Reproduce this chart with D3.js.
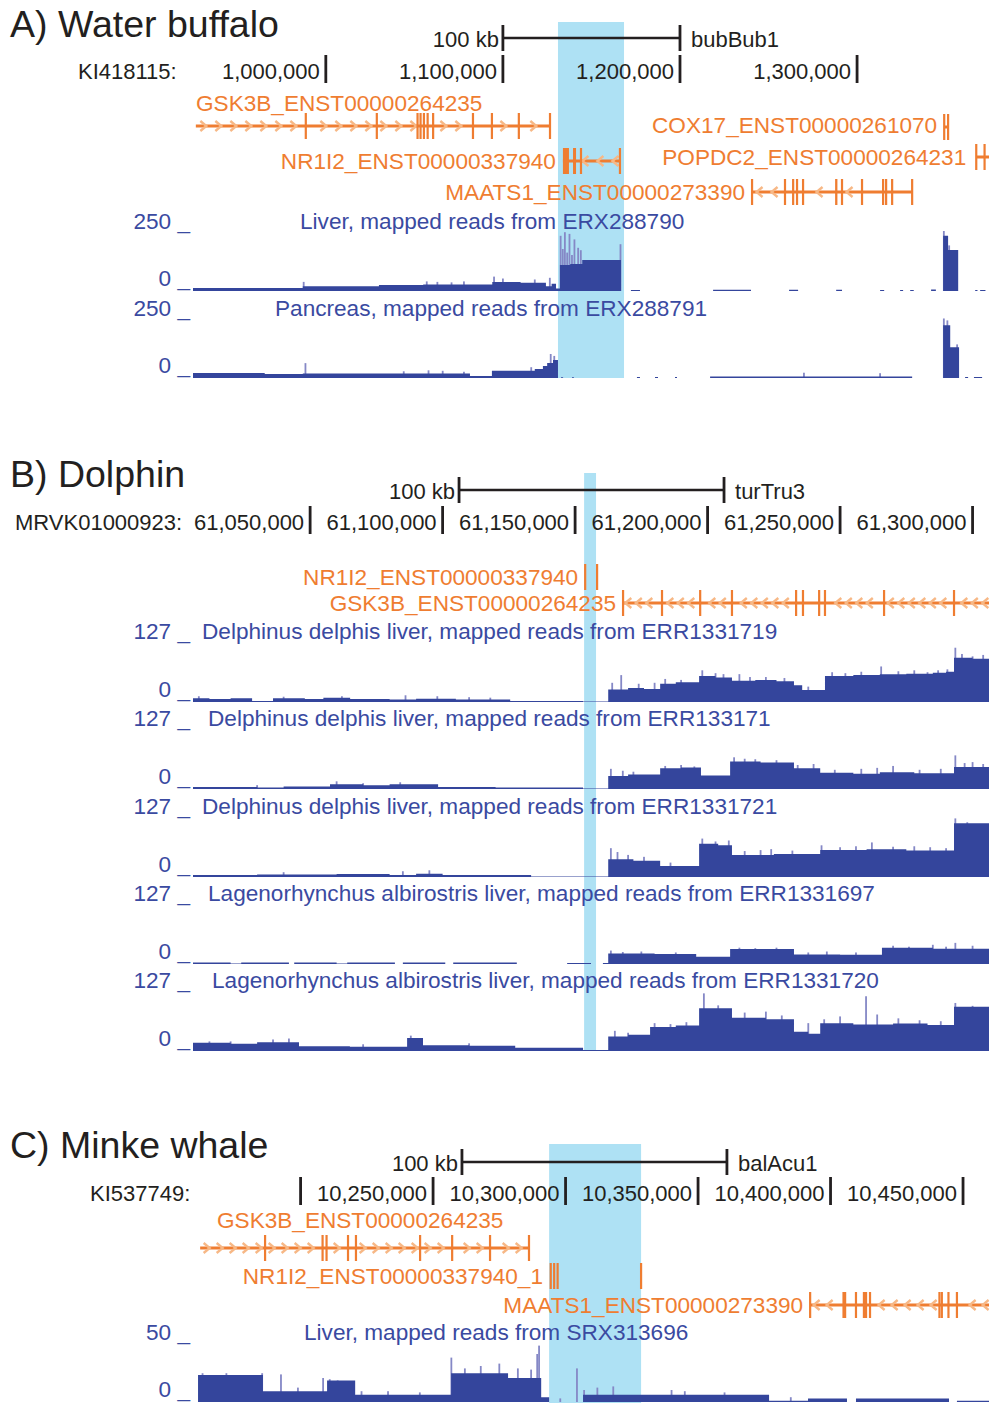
<!DOCTYPE html>
<html>
<head>
<meta charset="utf-8">
<script src="https://cdn.jsdelivr.net/npm/d3@7/dist/d3.min.js"></script>
<style>
  body { margin: 0; background: #fff; }
  svg { display: block; font-family: "Liberation Sans", Arial, Helvetica, sans-serif; }
</style>
</head>
<body>
<div id="chart"></div>
<script>
// all genomic positions are in kb

// ---- A) water buffalo, KI418115 (bubBub1) ----
const bufView = [925.0, 1374.5];
const bufTicks = [1000, 1100, 1200, 1300];
const bufTickLabels = ['1,000,000', '1,100,000', '1,200,000', '1,300,000'];
const bufHighlight = [1131.1, 1168.4];
const bufScaleBar = [1100, 1200];
const bufGenes = [
  { name: 'GSK3B_ENST00000264235', strand: '+', start: 926.6, end: 1126.6,
    exons: [988.7, 1028.8, 1051.8, 1053.5, 1055.4, 1057.5, 1060.6, 1083.1, 1093.8, 1109.0, 1126.6] },
  { name: 'COX17_ENST00000261070', strand: '-', start: 1349.2, end: 1351.4, exons: [1349.2, 1351.4] },
  { name: 'NR1I2_ENST00000337940', strand: '-', start: 1133.9, end: 1166.1,
    exons: [[1133.9, 1137.3], [1139.6, 1141.3], 1144.1, 1166.1] },
  { name: 'POPDC2_ENST00000264231', strand: '-', start: 1367.3, end: 1376.0, exons: [1367.3, 1372.0] },
  { name: 'MAATS1_ENST00000273390', strand: '-', start: 1240.7, end: 1331.1,
    exons: [1240.7, 1259.3, 1263.9, 1266.1, 1269.5, [1287.6, 1288.9], 1291.5, 1302.8, 1314.7, 1316.4, [1319.8, 1320.6], 1331.1] }
];
const bufLiver = [[925.0, 12], [987.0, 20], [1030.0, 25], [1055.0, 27], [1094.0, 37], [1110.0, 34], [1124.3, 20],
  [1127.5, 30], [1130.0, 10], [1132.2, 108], [1138.0, 112], [1144.8, 129], [1166.7, 0], [1172.3, 4], [1177.4, 0],
  [1218.7, 5], [1240.1, 0], [1261.6, 5], [1266.7, 0], [1288.2, 5], [1291.5, 0], [1313.0, 4], [1315.3, 0],
  [1324.3, 4], [1326.0, 0], [1330.0, 4], [1332.0, 0], [1341.8, 6], [1344.5, 0], [1348.6, 230], [1351.4, 171],
  [1357.1, 0], [1366.7, 4], [1368.0, 0], [1369.5, 4], [1372.5, 0]];
const bufLiverPeaks = [[987.5, 38], [1057, 40], [1063, 38], [1071, 36], [1078, 40], [1095, 60], [1100, 52],
  [1118, 48], [1126.5, 55], [1132.6, 230], [1133.8, 175], [1135.0, 245], [1136.3, 160], [1137.6, 238],
  [1139.0, 150], [1140.4, 215], [1142.5, 180], [1144.0, 170], [1166.4, 195], [1349.0, 250], [1352.0, 190]];
const bufPancreas = [[925.0, 21], [965.5, 17], [987.0, 19], [1081.4, 8], [1093.8, 30], [1118.0, 38], [1122.6, 50],
  [1125.0, 62], [1128.3, 75], [1131.1, 0], [1132.8, 3], [1134.0, 0], [1139.0, 3], [1140.1, 0], [1175.7, 4],
  [1177.4, 0], [1185.9, 4], [1187.6, 0], [1197.2, 4], [1198.3, 0], [1217.0, 6], [1331.1, 0], [1348.6, 220],
  [1352.6, 128], [1357.6, 0], [1361.0, 4], [1362.7, 0], [1366.0, 4], [1370.6, 0]];
const bufPancreasPeaks = [[988.5, 62], [1044, 28], [1058, 32], [1066, 30], [1078, 26], [1116, 45], [1127.0, 100],
  [1129.0, 92], [1270, 22], [1313, 20], [1349.0, 248], [1351.0, 240], [1356.5, 140]];

// ---- B) dolphin, MRVK01000923 (turTru3) ----
const dolView = [61005.8, 61306.2];
const dolTicks = [61050, 61100, 61150, 61200, 61250, 61300];
const dolTickLabels = ['61,050,000', '61,100,000', '61,150,000', '61,200,000', '61,250,000', '61,300,000'];
const dolHighlight = [61153.4, 61157.9];
const dolScaleBar = [61106.2, 61206.2];
const dolGenes = [
  { name: 'NR1I2_ENST00000337940', strand: '-', start: 61153.8, end: 61158.3, exons: [61153.8, 61158.3] },
  { name: 'GSK3B_ENST00000264235', strand: '-', start: 61168.1, end: 61320.0,
    exons: [61168.1, 61182.8, 61197.2, 61209.2, 61233.4, 61236.0, 61242.1, 61244.3, 61266.6, 61293.0] }
];
const dolCov1 = [[61005.8, 8], [61012, 6], [61020, 8], [61028.1, 2], [61036.0, 8], [61048, 6], [61055, 9],
  [61065.1, 6], [61080, 5], [61090, 7], [61105, 5], [61125.5, 2], [61153.0, 1], [61162.5, 26], [61170, 29],
  [61176, 27], [61182.1, 38], [61188, 41], [61196.8, 54], [61203, 51], [61209.2, 44], [61218, 46], [61226, 43],
  [61232.6, 35], [61235.7, 25], [61244.3, 54], [61255, 56], [61265, 58], [61275, 59], [61285, 61], [61290.0, 63],
  [61293.0, 92], [61300, 90]];
const dolCov1Peaks = [[61008, 12], [61040, 11], [61062, 12], [61086, 14], [61098, 12], [61110, 10], [61118, 9],
  [61164, 40], [61167.4, 56], [61174, 38], [61180, 40], [61184, 48], [61190, 46], [61198, 66], [61203, 60],
  [61206, 58], [61212, 58], [61216, 52], [61222, 52], [61229, 50], [61238, 32], [61247, 62], [61252, 60],
  [61258, 63], [61265.5, 74], [61272, 64], [61278, 66], [61283, 62], [61287, 66], [61290.5, 68], [61293.5, 113],
  [61296, 100], [61300, 95], [61304, 98]];
const dolCov2 = [[61005.8, 4], [61030, 3], [61040, 5], [61057.5, 10], [61070, 8], [61080, 10], [61098.3, 4],
  [61120, 3], [61153.0, 1], [61162.5, 27], [61170, 30], [61182.1, 43], [61190, 45], [61197.5, 28], [61208.5, 57],
  [61220, 55], [61232.6, 43], [61242.5, 34], [61255, 32], [61265, 35], [61278, 33], [61293.0, 46]];
const dolCov2Peaks = [[61030, 8], [61060, 16], [61070, 12], [61084, 14], [61163.5, 42], [61168, 38], [61172, 36],
  [61184, 48], [61190, 50], [61195, 47], [61210, 66], [61214, 63], [61218, 62], [61226, 60], [61234, 50],
  [61240, 52], [61248, 40], [61258, 42], [61264, 44], [61270, 48], [61280, 40], [61288, 42], [61293.5, 70],
  [61297, 54], [61300, 56], [61304, 52]];
const dolCov3 = [[61005.8, 4], [61030, 5], [61060.0, 6], [61080, 4], [61090, 7], [61100.0, 4], [61133.4, 1],
  [61162.5, 37], [61172, 34], [61182.1, 23], [61196.8, 69], [61204, 66], [61209.2, 46], [61225, 48],
  [61242.5, 56], [61260, 58], [61275, 55], [61293.0, 112]];
const dolCov3Peaks = [[61040, 10], [61085, 12], [61095, 14], [61163.5, 60], [61166, 52], [61170, 46], [61176, 42],
  [61186, 30], [61198, 80], [61203, 74], [61208, 76], [61214, 54], [61220, 56], [61224, 58], [61232, 55],
  [61243, 66], [61250, 62], [61256, 64], [61262, 72], [61270, 63], [61278, 64], [61284, 62], [61290, 60],
  [61293.5, 122], [61298, 114], [61302, 110]];
const dolCov4 = [[61005.8, 3], [61020.0, 1], [61024.0, 3], [61042.0, 0], [61044.0, 3], [61060.0, 1], [61064.0, 3],
  [61082.0, 0], [61085.0, 3], [61101.0, 0], [61104.0, 3], [61128.0, 0], [61147.0, 2], [61156.0, 0],
  [61160.5, 2], [61162.5, 22], [61180, 21], [61195.7, 15], [61208.5, 31], [61232.6, 20], [61250, 19],
  [61265.8, 34], [61285, 32]];
const dolCov4Peaks = [[61163.5, 28], [61168, 25], [61175, 26], [61188, 24], [61212, 34], [61218, 33], [61226, 34],
  [61238, 24], [61245, 26], [61256, 24], [61270, 38], [61276, 36], [61285, 40], [61290, 36], [61293.5, 44],
  [61300, 38]];
const dolCov5 = [[61005.8, 17], [61020, 15], [61030, 18], [61045.8, 10], [61065, 9], [61086.6, 27],
  [61092.6, 12], [61110, 11], [61127.4, 7], [61153.0, 2], [61162.5, 30], [61170, 34], [61178.3, 50],
  [61188, 53], [61196.8, 89], [61209.2, 69], [61222, 66], [61232.6, 40], [61238, 36], [61242.5, 58],
  [61255, 55], [61270, 57], [61283, 54], [61293.0, 92]];
const dolCov5Peaks = [[61012, 20], [61020, 20], [61036, 24], [61042, 26], [61070, 14], [61088, 32], [61110, 16],
  [61165, 42], [61170, 38], [61180, 58], [61186, 56], [61192, 60], [61198.6, 120], [61204, 95], [61214, 80],
  [61222, 82], [61228, 74], [61238, 58], [61244, 66], [61250, 72], [61259.8, 114], [61264, 76], [61272, 68],
  [61280, 64], [61288, 62], [61293.5, 100], [61300, 94]];
const dolTrackNames = [
  'Delphinus delphis liver, mapped reads from ERR1331719',
  'Delphinus delphis liver, mapped reads from ERR133171',
  'Delphinus delphis liver, mapped reads from ERR1331721',
  'Lagenorhynchus albirostris liver, mapped reads from ERR1331697',
  'Lagenorhynchus albirostris liver, mapped reads from ERR1331720'
];

// ---- C) minke whale, KI537749 (balAcu1) ----
const minkeView = [10159.4, 10459.8];
const minkeTicks = [10200, 10250, 10300, 10350, 10400, 10450];
const minkeTickLabels = ['', '10,250,000', '10,300,000', '10,350,000', '10,400,000', '10,450,000'];
const minkeHighlight = [10293.8, 10328.5];
const minkeScaleBar = [10260.9, 10360.9];
const minkeGenes = [
  { name: 'GSK3B_ENST00000264235', strand: '+', start: 10162.1, end: 10286.2,
    exons: [10186.6, 10208.3, 10209.8, 10217.9, 10220.9, 10245.1, 10257.2, 10271.5, 10286.2] },
  { name: 'NR1I2_ENST00000337940_1', strand: '-', start: 10294.5, end: 10328.5,
    exons: [10294.4, 10295.7, 10297.0, 10328.5] },
  { name: 'MAATS1_ENST00000273390', strand: '-', start: 10392.3, end: 10470.0,
    exons: [10392.3, 10404.9, 10405.5, 10409.6, 10412.6, 10413.4, 10414.9, 10441.1, 10442.0, 10444.5, 10447.7] }
];
const minkeLiver = [[10159.4, 0], [10161.3, 22.5], [10185.8, 9], [10210.0, 18], [10220.6, 6], [10256.8, 24],
  [10278.3, 20], [10290.8, 4], [10293.8, 0], [10306.6, 6], [10376.8, 1], [10391.5, 3], [10406.2, 0],
  [10409.6, 3], [10444.7, 0], [10447.7, 1]];
const minkeLiverPeaks = [[10163, 24], [10172, 24], [10185.5, 24], [10192.6, 23], [10199, 12], [10208.5, 20],
  [10211, 19], [10214, 18], [10223, 9], [10233, 9], [10245, 8], [10256.9, 37], [10262, 28], [10268, 30],
  [10275, 32], [10282, 28], [10287, 27], [10289.3, 40], [10290.0, 47], [10298, 3], [10304.3, 28], [10307, 10],
  [10312, 12], [10318, 13], [10340, 10], [10345, 9], [10360, 8], [10385, 4]];

// ---- layout ----
const width = 989, height = 1403;
const X0 = 193, X1 = 989;
const ORANGE = '#ef7d31', ORANGE_LIGHT = '#f7b886', BLUE = '#34459c', BLUE_TEXT = '#3a4aa1',
  BLUE_LIGHT = '#8588c6', SKY = '#aee1f4', INK = '#231f20';

const panels = [
  {
    title: 'A) Water buffalo', titleY: 37, view: bufView, highlight: bufHighlight, hiY: [22, 378],
    scaleBar: bufScaleBar, barY: 38, assembly: 'bubBub1',
    chrom: 'KI418115:', chromX: 78, axisY: 79, ticks: bufTicks, tickLabels: bufTickLabels,
    genes: bufGenes, arrowStep: 15,
    rows: [
      { y: 126, labelX: 196, labelY: 111 },
      { y: 127, labelY: 133 },
      { y: 161, labelY: 169 },
      { y: 157, labelY: 165, gap: 10 },
      { y: 192, labelY: 200 }
    ],
    tracks: [
      { name: 'Liver, mapped reads from ERX288790', data: bufLiver, peaks: bufLiverPeaks, max: 250, bottom: 291, h: 60, titleX: 300 },
      { name: 'Pancreas, mapped reads from ERX288791', data: bufPancreas, peaks: bufPancreasPeaks, max: 250, bottom: 378, h: 60, titleX: 275 }
    ]
  },
  {
    title: 'B) Dolphin', titleY: 487, view: dolView, highlight: dolHighlight, hiY: [473, 1050],
    scaleBar: dolScaleBar, barY: 490, assembly: 'turTru3',
    chrom: 'MRVK01000923:', chromX: 15, axisY: 530, ticks: dolTicks, tickLabels: dolTickLabels,
    genes: dolGenes, arrowStep: 10.5,
    rows: [
      { y: 577, labelY: 585, noLine: true },
      { y: 603, labelY: 611 }
    ],
    tracks: [
      { name: dolTrackNames[0], data: dolCov1, peaks: dolCov1Peaks, max: 127, bottom: 702, h: 61, titleX: 202 },
      { name: dolTrackNames[1], data: dolCov2, peaks: dolCov2Peaks, max: 127, bottom: 789, h: 61, titleX: 208 },
      { name: dolTrackNames[2], data: dolCov3, peaks: dolCov3Peaks, max: 127, bottom: 877, h: 61, titleX: 202 },
      { name: dolTrackNames[3], data: dolCov4, peaks: dolCov4Peaks, max: 127, bottom: 964, h: 61, titleX: 208 },
      { name: dolTrackNames[4], data: dolCov5, peaks: dolCov5Peaks, max: 127, bottom: 1051, h: 61, titleX: 212 }
    ]
  },
  {
    title: 'C) Minke whale', titleY: 1158, view: minkeView, highlight: minkeHighlight, hiY: [1144, 1403],
    scaleBar: minkeScaleBar, barY: 1162, assembly: 'balAcu1',
    chrom: 'KI537749:', chromX: 90, axisY: 1201, ticks: minkeTicks, tickLabels: minkeTickLabels,
    genes: minkeGenes, arrowStep: 13,
    rows: [
      { y: 1248, labelX: 217, labelY: 1228 },
      { y: 1276, labelY: 1284, noLine: true, gap: 8 },
      { y: 1305, labelY: 1313 }
    ],
    tracks: [
      { name: 'Liver, mapped reads from SRX313696', data: minkeLiver, peaks: minkeLiverPeaks, max: 50, bottom: 1402, h: 60, titleX: 304 }
    ]
  }
];

const svg = d3.select('#chart').append('svg')
  .attr('width', width)
  .attr('height', height);

svg.append('defs').append('clipPath').attr('id', 'win')
  .append('rect').attr('x', X0).attr('y', 0).attr('width', X1 - X0).attr('height', height);

panels.forEach(drawPanel);

function drawPanel(p) {
  const x = d3.scaleLinear().domain(p.view).range([X0, X1]);
  const g = svg.append('g');

  // highlighted region
  g.append('rect')
    .attr('x', x(p.highlight[0]))
    .attr('y', p.hiY[0])
    .attr('width', x(p.highlight[1]) - x(p.highlight[0]))
    .attr('height', p.hiY[1] - p.hiY[0])
    .attr('fill', SKY);

  g.append('text')
    .attr('x', 10).attr('y', p.titleY)
    .attr('font-size', 37.5).attr('fill', INK)
    .text(p.title);

  // 100 kb scale bar
  const bx0 = x(p.scaleBar[0]), bx1 = x(p.scaleBar[1]);
  g.append('line')
    .attr('x1', bx0).attr('x2', bx1).attr('y1', p.barY).attr('y2', p.barY)
    .attr('stroke', INK).attr('stroke-width', 2.4);
  [bx0, bx1].forEach(bx => g.append('line')
    .attr('x1', bx).attr('x2', bx).attr('y1', p.barY - 13).attr('y2', p.barY + 13)
    .attr('stroke', INK).attr('stroke-width', 2.8));
  g.append('text').attr('x', bx0 - 4).attr('y', p.barY + 9)
    .attr('text-anchor', 'end').attr('font-size', 22).attr('fill', INK).text('100 kb');
  g.append('text').attr('x', bx1 + 11).attr('y', p.barY + 9)
    .attr('font-size', 22).attr('fill', INK).text(p.assembly);

  // base position ruler
  g.append('text').attr('x', p.chromX).attr('y', p.axisY)
    .attr('font-size', 22).attr('fill', INK).text(p.chrom);
  const tk = g.selectAll('.tick').data(p.ticks).join('g').attr('class', 'tick');
  tk.append('line')
    .attr('x1', d => x(d)).attr('x2', d => x(d))
    .attr('y1', p.axisY - 24).attr('y2', p.axisY + 4)
    .attr('stroke', INK).attr('stroke-width', 2.8);
  tk.append('text')
    .attr('x', d => x(d) - 6).attr('y', p.axisY)
    .attr('text-anchor', 'end').attr('font-size', 22).attr('fill', INK)
    .text((d, i) => p.tickLabels[i]);

  // genes
  p.genes.forEach((gene, i) => drawGene(g, x, gene, p.rows[i], p.arrowStep));

  // coverage tracks
  p.tracks.forEach(t => drawTrack(g, x, t, p.view));
}

function drawGene(g, x, gene, row, step) {
  const gg = g.append('g').attr('clip-path', 'url(#win)');
  const xs = Math.max(x(gene.start), X0), xe = Math.min(x(gene.end), X1 + 2);
  const exonX = gene.exons.map(e => Array.isArray(e) ? [x(e[0]), x(e[1])] : [x(e), x(e)]);

  if (!row.noLine) {
    gg.append('line')
      .attr('x1', xs).attr('x2', xe).attr('y1', row.y).attr('y2', row.y)
      .attr('stroke', ORANGE).attr('stroke-width', 3);
    // strand chevrons in the introns
    const dir = gene.strand === '+' ? 1 : -1;
    const marks = d3.range(xs + step / 2, xe, step)
      .filter(cx => exonX.every(([a, b]) => cx < a - 4 || cx > b + 4));
    gg.selectAll(null).data(marks).join('path')
      .attr('d', cx => `M${cx - 3 * dir},${row.y - 5}L${cx + 3 * dir},${row.y}L${cx - 3 * dir},${row.y + 5}`)
      .attr('fill', 'none').attr('stroke', ORANGE_LIGHT).attr('stroke-width', 2.4);
  }

  gg.selectAll(null).data(exonX).join('rect')
    .attr('x', d => d[1] - d[0] < 2.2 ? d[0] - 1.1 : d[0])
    .attr('width', d => Math.max(2.2, d[1] - d[0]))
    .attr('y', row.y - 13).attr('height', 26)
    .attr('fill', ORANGE);

  const label = g.append('text')
    .attr('y', row.labelY)
    .attr('font-size', 22.6).attr('fill', ORANGE)
    .text(gene.name);
  if (row.labelX !== undefined) {
    label.attr('x', row.labelX);
  } else {
    label.attr('x', x(gene.start) - (row.gap || 7)).attr('text-anchor', 'end');
  }
}

function drawTrack(g, x, t, view) {
  const y = d3.scaleLinear().domain([0, t.max]).range([t.bottom, t.bottom - t.h]);
  const tg = g.append('g').attr('clip-path', 'url(#win)');

  // maxima drawn lighter behind the mean coverage
  tg.selectAll(null).data(t.peaks).join('rect')
    .attr('x', d => x(d[0]) - 0.9).attr('width', 1.8)
    .attr('y', d => y(d[1])).attr('height', d => t.bottom - y(d[1]))
    .attr('fill', BLUE_LIGHT);

  const series = t.data.concat([[view[1], t.data[t.data.length - 1][1]]]);
  const area = d3.area()
    .curve(d3.curveStepAfter)
    .x(d => x(d[0]))
    .y0(t.bottom)
    .y1(d => y(d[1]));
  tg.append('path').datum(series)
    .attr('d', area)
    .attr('fill', BLUE);

  g.append('text').attr('x', 190).attr('y', t.bottom - t.h - 2)
    .attr('text-anchor', 'end').attr('font-size', 22.6).attr('fill', BLUE_TEXT)
    .text(t.max + ' _');
  g.append('text').attr('x', 190).attr('y', t.bottom - 5)
    .attr('text-anchor', 'end').attr('font-size', 22.6).attr('fill', BLUE_TEXT)
    .text('0 _');
  g.append('text').attr('x', t.titleX).attr('y', t.bottom - t.h - 2)
    .attr('font-size', 22.6).attr('fill', BLUE_TEXT)
    .text(t.name);
}
</script>
</body>
</html>
